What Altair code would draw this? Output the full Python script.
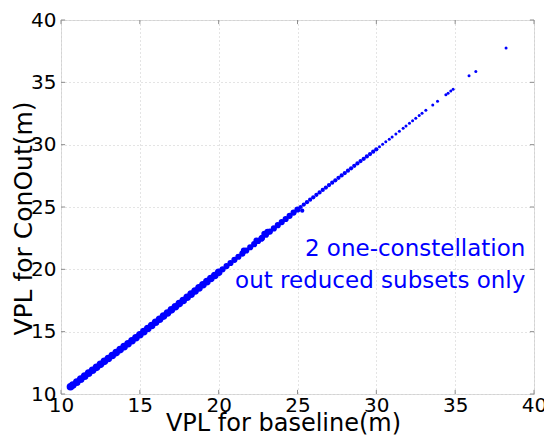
import altair as alt
import pandas as pd

# ---- data ----
# dense part of the cloud, lower section
band_a_x = [10.6, 10.75, 11.0, 11.25, 11.5, 11.75, 12.0, 12.25, 12.5, 12.75, 13.0, 13.25,
            13.5, 13.75, 14.0, 14.25, 14.5, 14.75, 15.0, 15.25, 15.5, 15.75, 16.0, 16.25,
            16.5, 16.75, 17.0, 17.25, 17.5, 17.75, 18.0, 18.25, 18.5, 18.75, 19.0, 19.25,
            19.5, 19.75, 20.0]
band_a_y = [10.58, 10.72, 10.95, 11.19, 11.43, 11.67, 11.9, 12.14, 12.38, 12.62, 12.85, 13.09,
            13.32, 13.56, 13.8, 14.03, 14.27, 14.51, 14.75, 15.0, 15.25, 15.5, 15.75, 16.0,
            16.25, 16.5, 16.75, 17.0, 17.25, 17.5, 17.76, 18.01, 18.26, 18.51, 18.76, 19.01,
            19.26, 19.51, 19.76]
# middle section
band_b_x = [20.25, 20.5, 20.75, 21.0, 21.25, 21.5, 21.75, 22.0, 22.25, 22.5, 22.75, 23.0,
            23.25, 23.5, 23.75, 24.0, 24.25, 24.5, 24.75, 25.0,
            21.6, 22.4, 22.7, 22.9, 23.1]
band_b_y = [20.01, 20.26, 20.51, 20.76, 21.01, 21.26, 21.51, 21.77, 22.02, 22.27, 22.52, 22.78,
            23.03, 23.28, 23.54, 23.79, 24.04, 24.29, 24.55, 24.8,
            21.5, 22.3, 22.45, 22.85, 23.0]
# upper section
band_c_x = [25.2, 25.4, 25.6, 25.8, 26.0, 26.2, 26.4, 26.6, 26.8, 27.0, 27.2, 27.4, 27.6,
            27.8, 28.0, 28.2, 28.4, 28.6, 28.8, 29.0, 29.2, 29.4, 29.6, 29.8, 30.0, 25.3]
band_c_y = [25.0, 25.2, 25.39, 25.59, 25.78, 25.98, 26.17, 26.37, 26.56, 26.76, 26.95, 27.14,
            27.34, 27.53, 27.72, 27.91, 28.1, 28.3, 28.49, 28.68, 28.87, 29.06, 29.25, 29.44,
            29.63, 24.7]
# sparse tail
tail_x = [30.2, 30.4, 30.6, 30.82, 31.0, 31.24, 31.46, 31.7, 31.88, 32.1, 32.3, 32.5, 32.72,
          32.9, 33.14, 33.58, 33.88, 34.41, 34.55, 34.72, 34.87, 35.88, 36.31, 38.23]
tail_y = [29.84, 30.03, 30.23, 30.44, 30.62, 30.86, 31.08, 31.32, 31.5, 31.72, 31.92, 32.12,
          32.34, 32.52, 32.76, 33.19, 33.48, 34.0, 34.13, 34.3, 34.45, 35.53, 35.86, 37.75]

tick_values = [10, 15, 20, 25, 30, 35, 40]
note_lines = ["2 one-constellation", "out reduced subsets only"]
note_x = [39.45, 39.45]
note_y = [21.1, 18.5]

FONT = "DejaVu Sans"
BLUE = "#0000ff"

xs = alt.Scale(domain=[10, 40], nice=False, zero=False)
ys = alt.Scale(domain=[10, 40], nice=False, zero=False)

x_axis = alt.Axis(values=tick_values, grid=True, gridDash=[1, 3], gridColor="#c8c8c8",
                  gridWidth=1, ticks=False, domain=False, labelFont=FONT, labelFontSize=20,
                  labelColor="black", labelPadding=1, labelFlush=False,
                  title="VPL for baseline(m)", titleFont=FONT, titleFontSize=24,
                  titleFontWeight="normal", titleColor="black", titleX=222, titleY=36,
                  titleBaseline="alphabetic")
y_axis = alt.Axis(values=tick_values, grid=True, gridDash=[1, 3], gridColor="#c8c8c8",
                  gridWidth=1, ticks=False, domain=False, labelFont=FONT, labelFontSize=20,
                  labelColor="black", labelPadding=5, labelFlush=False,
                  title="VPL for ConOut(m)", titleFont=FONT, titleFontSize=25,
                  titleFontWeight="normal", titleColor="black", titleX=-38, titleY=198,
                  titleBaseline="middle")


def pts(xv, yv, size):
    df = pd.DataFrame({"b": xv, "c": yv})
    return alt.Chart(df).mark_circle(color=BLUE, opacity=1, size=size).encode(
        x=alt.X("b:Q", scale=xs, axis=x_axis),
        y=alt.Y("c:Q", scale=ys, axis=y_axis),
    )


layer_a = pts(band_a_x, band_a_y, 58)
layer_b = pts(band_b_x, band_b_y, 38)
layer_c = pts(band_c_x, band_c_y, 18)
layer_t = pts(tail_x, tail_y, 9)

# inner tick marks on all four sides (MATLAB style)
tk = pd.DataFrame({"v": tick_values})
tick_col = "#8c8c8c"
bottom = alt.Chart(tk).mark_rule(color=tick_col, strokeWidth=1).encode(
    x=alt.X("v:Q", scale=xs), y=alt.datum(10), y2=alt.datum(10.33))
top = alt.Chart(tk).mark_rule(color=tick_col, strokeWidth=1).encode(
    x=alt.X("v:Q", scale=xs), y=alt.datum(40), y2=alt.datum(39.67))
left = alt.Chart(tk).mark_rule(color=tick_col, strokeWidth=1).encode(
    y=alt.Y("v:Q", scale=ys), x=alt.datum(10), x2=alt.datum(10.26))
right = alt.Chart(tk).mark_rule(color=tick_col, strokeWidth=1).encode(
    y=alt.Y("v:Q", scale=ys), x=alt.datum(40), x2=alt.datum(39.74))

notes = pd.DataFrame({"t": note_lines, "nx": note_x, "ny": note_y})
note = alt.Chart(notes).mark_text(font=FONT, fontSize=23, color=BLUE, align="right",
                                  baseline="alphabetic").encode(
    x=alt.X("nx:Q", scale=xs), y=alt.Y("ny:Q", scale=ys), text="t:N")

chart = alt.layer(bottom, top, left, right, layer_a, layer_b, layer_c, layer_t, note).properties(
    width=473, height=374,
    autosize=alt.AutoSizeParams(type="none"),
    padding={"left": 61, "top": 20, "right": 10, "bottom": 42},
).configure_view(stroke="#a0a0a0", strokeWidth=1.6).configure(background="white")

chart.save("out.html", embed_options={"renderer": "svg", "actions": False})
